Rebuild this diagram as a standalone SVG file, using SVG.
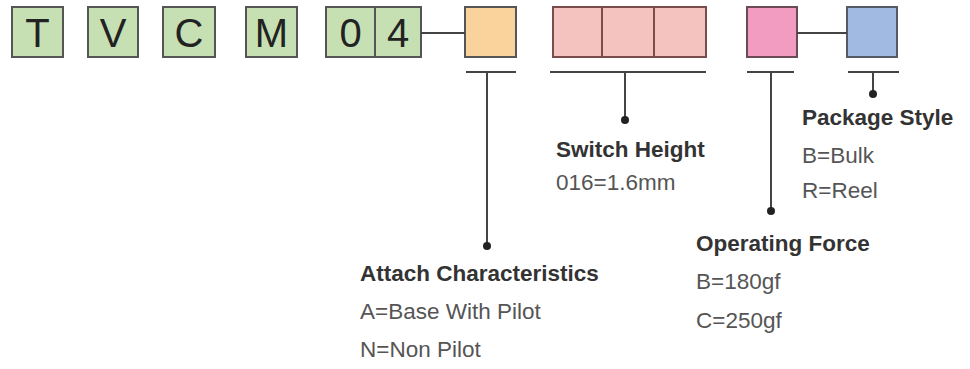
<svg xmlns="http://www.w3.org/2000/svg" width="970" height="369" viewBox="0 0 970 369">
<style>
.bx{stroke:#555;stroke-width:2}
.g{fill:#c6e0b4}
.ch{font-family:"Liberation Sans",Arial,sans-serif;font-size:40px;fill:#222;text-anchor:middle}
.ln{stroke:#444;stroke-width:2;fill:none}
.dot{fill:#222}
.h{font-family:"Liberation Sans",Arial,sans-serif;font-size:22.5px;font-weight:bold;fill:#333}
.t{font-family:"Liberation Sans",Arial,sans-serif;font-size:22.5px;fill:#555}
</style>
<rect width="970" height="369" fill="#fff"/>
<g id="code">
<g id="T"><rect class="bx g" x="12" y="7" width="51" height="50"/><text class="ch" x="37.5" y="47">T</text></g>
<g id="V"><rect class="bx g" x="88" y="7" width="50" height="50"/><text class="ch" x="113" y="47">V</text></g>
<g id="C"><rect class="bx g" x="163" y="7" width="52" height="50"/><text class="ch" x="189" y="47">C</text></g>
<g id="M"><rect class="bx g" x="246" y="7" width="51" height="50"/><text class="ch" x="271.5" y="47">M</text></g>
<g id="n04"><rect class="bx g" x="326" y="7" width="95" height="50"/><line class="bx" x1="375" y1="7" x2="375" y2="57"/><text class="ch" x="350.5" y="47">0</text><text class="ch" x="398" y="47">4</text></g>
<g id="attach"><rect class="bx" fill="#f9d39b" x="465" y="7" width="51" height="50"/></g>
<g id="height"><rect fill="#f5c3bf" stroke="#7a4c4c" stroke-width="2" x="553" y="7" width="153" height="50"/><line stroke="#7a4c4c" stroke-width="2" x1="602" y1="7" x2="602" y2="57"/><line stroke="#7a4c4c" stroke-width="2" x1="654" y1="7" x2="654" y2="57"/></g>
<g id="force"><rect fill="#f29cc2" stroke="#6a4a55" stroke-width="2" x="747" y="7" width="50" height="50"/></g>
<g id="package"><rect fill="#a0bae2" stroke="#555a66" stroke-width="2" x="847" y="7" width="50" height="50"/></g>
</g>
<g id="connectors">
<line class="ln" x1="421" y1="33" x2="465" y2="33"/>
<line class="ln" x1="797" y1="33" x2="847" y2="33"/>
<line class="ln" x1="466" y1="72" x2="516" y2="72"/>
<line class="ln" x1="487" y1="72" x2="487" y2="246"/>
<circle class="dot" cx="487" cy="246" r="4"/>
<line class="ln" x1="550" y1="72" x2="706" y2="72"/>
<line class="ln" x1="625" y1="72" x2="625" y2="120"/>
<circle class="dot" cx="625" cy="120" r="4"/>
<line class="ln" x1="747" y1="72" x2="794" y2="72"/>
<line class="ln" x1="771" y1="72" x2="771" y2="211"/>
<circle class="dot" cx="771" cy="211" r="4"/>
<line class="ln" x1="848" y1="72" x2="899" y2="72"/>
<line class="ln" x1="873" y1="72" x2="873" y2="94"/>
<circle class="dot" cx="873" cy="94" r="4"/>
</g>
<g id="label-attach">
<text class="h" x="360" y="281">Attach Characteristics</text>
<text class="t" x="360" y="319">A=Base With Pilot</text>
<text class="t" x="360" y="357">N=Non Pilot</text>
</g>
<g id="label-height">
<text class="h" x="556" y="157">Switch Height</text>
<text class="t" x="556" y="190">016=1.6mm</text>
</g>
<g id="label-package">
<text class="h" x="802" y="125">Package Style</text>
<text class="t" x="802" y="163">B=Bulk</text>
<text class="t" x="802" y="198">R=Reel</text>
</g>
<g id="label-force">
<text class="h" x="696" y="251">Operating Force</text>
<text class="t" x="696" y="289">B=180gf</text>
<text class="t" x="696" y="328">C=250gf</text>
</g>
</svg>
